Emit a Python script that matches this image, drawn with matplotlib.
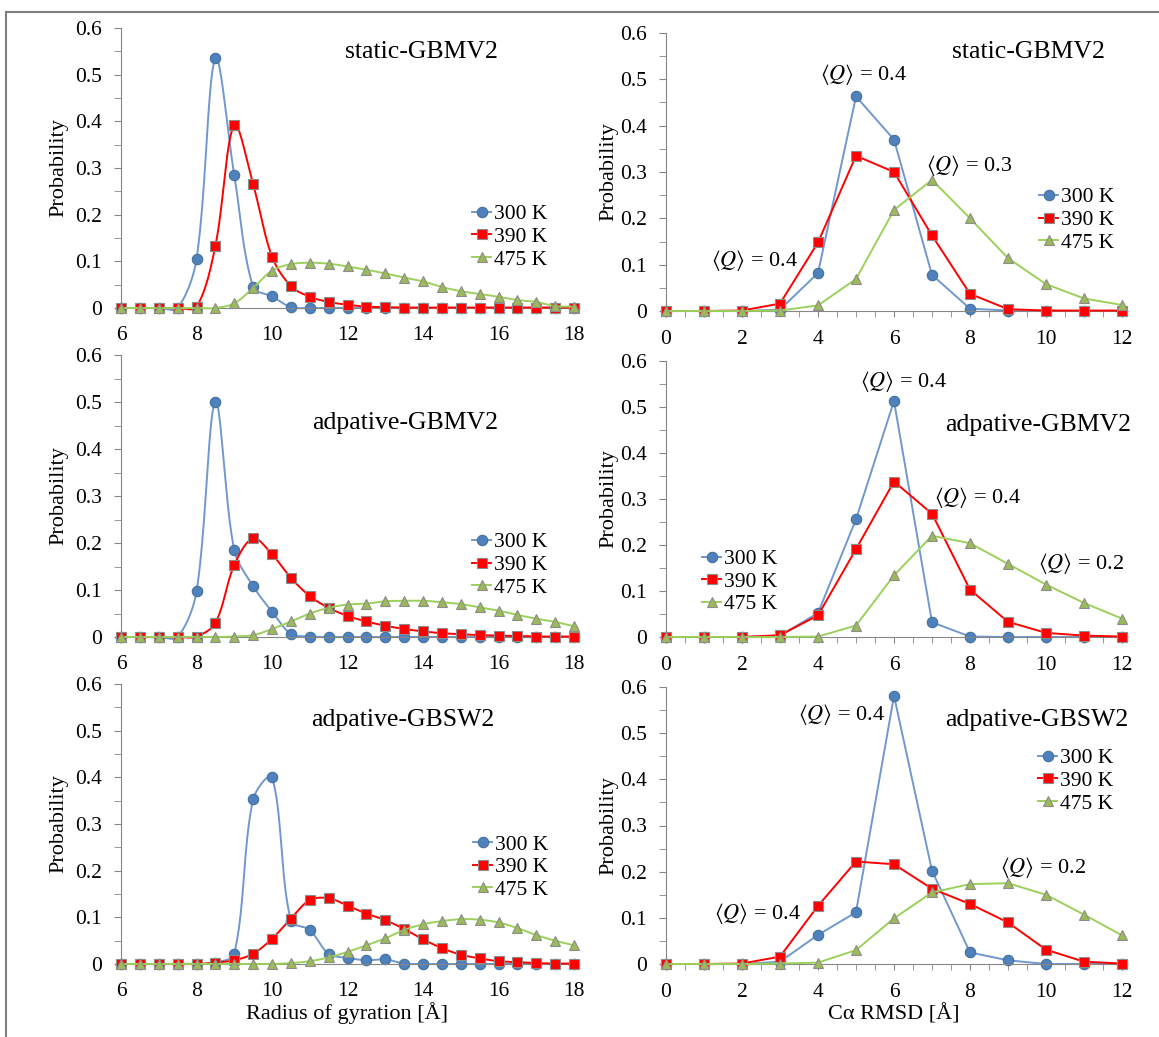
import numpy as np
import matplotlib
matplotlib.use("Agg")
import matplotlib.pyplot as plt
from matplotlib.lines import Line2D
from matplotlib.ticker import MultipleLocator, FuncFormatter

plt.rcParams['font.family'] = ['Liberation Serif', 'DejaVu Serif']
plt.rcParams['mathtext.fontset'] = 'stix'

# x values
rg_x = np.arange(6, 18.01, 0.5)
rmsd_x = np.arange(0, 13)

temps = ["300 K", "390 K", "475 K"]

# radius of gyration, static-GBMV2
rg_static_300 = [0, 0, 0, 0, 0.105, 0.535, 0.285, 0.045, 0.025, 0.002, 0, 0, 0,
                 0, 0, 0, 0, 0, 0, 0, 0, 0, 0, 0, 0]
rg_static_390 = [0, 0, 0, 0, 0.002, 0.133, 0.392, 0.265, 0.11, 0.047, 0.024, 0.013, 0.007,
                 0.003, 0.002, 0.001, 0.001, 0.001, 0.001, 0.001, 0.001, 0.001, 0.001, 0.001, 0.001]
rg_static_475 = [0, 0, 0, 0, 0, 0, 0.01, 0.043, 0.08, 0.094, 0.097, 0.095, 0.089,
                 0.082, 0.074, 0.065, 0.057, 0.045, 0.036, 0.03, 0.024, 0.017, 0.013, 0.004, 0.003]

# radius of gyration, adaptive-GBMV2
rg_adgbmv_300 = [0, 0, 0, 0, 0.097, 0.5, 0.185, 0.108, 0.054, 0.007, 0.001, 0, 0,
                 0, 0, 0, 0, 0, 0, 0, 0, 0, 0, 0, 0]
rg_adgbmv_390 = [0, 0, 0, 0, 0.001, 0.03, 0.153, 0.21, 0.176, 0.126, 0.087, 0.062, 0.045,
                 0.033, 0.024, 0.017, 0.012, 0.008, 0.006, 0.004, 0.003, 0.002, 0.001, 0.001, 0.001]
rg_adgbmv_475 = [0, 0, 0, 0, 0, 0, 0.001, 0.004, 0.017, 0.033, 0.05, 0.062, 0.069,
                 0.071, 0.076, 0.077, 0.077, 0.074, 0.07, 0.063, 0.056, 0.047, 0.039, 0.032, 0.023]

# radius of gyration, adaptive-GBSW2
rg_adgbsw_300 = [0, 0, 0, 0, 0, 0.003, 0.022, 0.353, 0.4, 0.093, 0.073, 0.022, 0.013,
                 0.008, 0.01, 0.001, 0, 0, 0, 0, 0, 0, 0, 0, 0]
rg_adgbsw_390 = [0, 0, 0, 0, 0, 0.003, 0.008, 0.022, 0.054, 0.097, 0.137, 0.141, 0.125,
                 0.108, 0.094, 0.075, 0.053, 0.034, 0.02, 0.012, 0.006, 0.004, 0.002, 0.001, 0.001]
rg_adgbsw_475 = [0, 0, 0, 0, 0, 0, 0, 0, 0, 0.002, 0.006, 0.014, 0.026,
                 0.04, 0.055, 0.073, 0.085, 0.092, 0.096, 0.095, 0.089, 0.077, 0.062, 0.05, 0.04]

# C-alpha RMSD
rmsd_static_300 = [0, 0, 0, 0.003, 0.082, 0.463, 0.37, 0.078, 0.005, 0.001, 0, 0, 0]
rmsd_static_390 = [0, 0, 0.001, 0.016, 0.148, 0.335, 0.3, 0.163, 0.037, 0.004, 0.001, 0.001, 0.001]
rmsd_static_475 = [0, 0, 0, 0.001, 0.012, 0.069, 0.218, 0.283, 0.2, 0.114, 0.058, 0.027, 0.013]

rmsd_adgbmv_300 = [0, 0, 0, 0.003, 0.052, 0.256, 0.513, 0.032, 0.001, 0, 0, 0, 0]
rmsd_adgbmv_390 = [0, 0, 0, 0.004, 0.047, 0.191, 0.338, 0.268, 0.103, 0.033, 0.009, 0.003, 0.001]
rmsd_adgbmv_475 = [0, 0, 0, 0, 0.001, 0.025, 0.134, 0.22, 0.204, 0.159, 0.114, 0.074, 0.04]

rmsd_adgbsw_300 = [0, 0, 0, 0.005, 0.063, 0.112, 0.581, 0.202, 0.025, 0.008, 0, 0, 0]
rmsd_adgbsw_390 = [0, 0, 0.001, 0.016, 0.126, 0.222, 0.216, 0.163, 0.13, 0.09, 0.031, 0.005, 0.001]
rmsd_adgbsw_475 = [0, 0, 0, 0.001, 0.003, 0.03, 0.099, 0.155, 0.173, 0.175, 0.15, 0.107, 0.062]

titles = ["static-GBMV2", "adpative-GBMV2", "adpative-GBSW2"]

# <Q> labels for the rmsd panels: (text, x frac, y frac)
q_labels = [
    [("0.4", 0.432, 0.849), ("0.3", 0.664, 0.525), ("0.4", 0.193, 0.183)],
    [("0.4", 0.52, 0.924), ("0.4", 0.682, 0.504), ("0.2", 0.91, 0.268)],
    [("0.4", 0.384, 0.899), ("0.4", 0.20, 0.184), ("0.2", 0.827, 0.35)],
]

line_cols = ['#7098CF', '#FF0000', '#9BD15A']
face_cols = ['#4F81BD', '#FF0000', '#9BBB59']
edge_cols = ['#41719C', '#8C8C8C', '#8C8C8C']
markers = ['o', 's', '^']


def smooth(x, y, sx, sy, n=24):
    # excel-like bezier smoothing, tangents scaled by chord length in screen units
    pts = np.column_stack([np.asarray(x) * sx, np.asarray(y) * sy])
    p = np.vstack([pts[0], pts, pts[-1]])
    t = np.linspace(0, 1, n)[:, None]
    segs = []
    for i in range(len(pts) - 1):
        p0, p1, p2, p3 = p[i], p[i + 1], p[i + 2], p[i + 3]
        d01 = np.hypot(*(p1 - p0))
        d12 = np.hypot(*(p2 - p1))
        d23 = np.hypot(*(p3 - p2))
        m1 = (p2 - p0) / max(d01 + d12, 1e-9)
        m2 = (p3 - p1) / max(d12 + d23, 1e-9)
        c1 = p1 + m1 * d12 / 3
        c2 = p2 - m2 * d12 / 3
        segs.append((1 - t)**3 * p1 + 3 * (1 - t)**2 * t * c1 + 3 * (1 - t) * t**2 * c2 + t**3 * p2)
    s = np.vstack(segs)
    return s[:, 0] / sx, s[:, 1] / sy


W, H = 1159, 1037
fig = plt.figure(figsize=(W / 100, H / 100), dpi=100)

# axes boxes in pixels: x0, x1, ytop, ybottom
left_boxes = [(121, 574, 28, 308), (121, 574, 355, 637), (121, 574, 684, 964)]
right_boxes = [(666, 1122, 33, 311), (666, 1122, 361, 637), (666, 1122, 687, 964)]

rg_data = [(rg_static_300, rg_static_390, rg_static_475),
           (rg_adgbmv_300, rg_adgbmv_390, rg_adgbmv_475),
           (rg_adgbsw_300, rg_adgbsw_390, rg_adgbsw_475)]
rmsd_data = [(rmsd_static_300, rmsd_static_390, rmsd_static_475),
             (rmsd_adgbmv_300, rmsd_adgbmv_390, rmsd_adgbmv_475),
             (rmsd_adgbsw_300, rmsd_adgbsw_390, rmsd_adgbsw_475)]

left_title_pos = [(0.664, 0.914), (0.627, 0.759), (0.623, 0.871)]
right_title_pos = [(0.794, 0.932), (0.816, 0.768), (0.814, 0.881)]
left_leg_pos = [(0.775, 0.254), (0.775, 0.255), (0.777, 0.346)]
right_leg_pos = [(0.818, 0.327), (0.079, 0.20), (0.816, 0.661)]


def make_ax(box):
    x0, x1, yt, yb = box
    ax = fig.add_axes([x0 / W, 1 - yb / H, (x1 - x0) / W, (yb - yt) / H])
    ax.set_ylim(0, 0.6)
    for s in ['top', 'right']:
        ax.spines[s].set_visible(False)
    for s in ['left', 'bottom']:
        ax.spines[s].set_color('#868686')
    ax.yaxis.set_major_locator(MultipleLocator(0.1))
    ax.yaxis.set_minor_locator(MultipleLocator(0.05))
    ax.yaxis.set_major_formatter(FuncFormatter(lambda v, _: '0' if abs(v) < 1e-9 else f'{v:.1f}'))
    ax.tick_params(axis='y', which='both', direction='out', length=5, color='#868686',
                   labelsize=15.5, pad=9)
    ax.set_ylabel('Probability', fontsize=16)
    ax.patch.set_alpha(0)
    return ax


for row in range(3):
    # left: radius of gyration (smoothed lines)
    box = left_boxes[row]
    ax = make_ax(box)
    ax.set_xlim(6, 18)
    ax.set_xticks(np.arange(6, 19, 2))
    ax.tick_params(axis='x', length=0, labelsize=15.5, pad=13)
    px_x = (box[1] - box[0]) / 12.0
    px_y = (box[3] - box[2]) / 0.6
    for k, ys in enumerate(rg_data[row]):
        sx, sy = smooth(rg_x, ys, px_x, px_y)
        ax.plot(sx, sy, color=line_cols[k], lw=1.4, clip_on=False, zorder=2 + k)
        ax.plot(rg_x, ys, ls='none', marker=markers[k], ms=7.5, mfc=face_cols[k],
                mec=edge_cols[k], mew=0.8, clip_on=False, zorder=2 + k)
    handles = [Line2D([], [], color=line_cols[k], lw=1.4, marker=markers[k], ms=7.5,
                      mfc=face_cols[k], mec=edge_cols[k], mew=0.8) for k in range(3)]
    ax.legend(handles, temps, loc='center left', bbox_to_anchor=left_leg_pos[row],
              frameon=False, fontsize=15.5, handlelength=0.9, handletextpad=0.1,
              labelspacing=0.12, borderpad=0, borderaxespad=0)
    ax.text(*left_title_pos[row], titles[row], transform=ax.transAxes, fontsize=18.5,
            ha='center', va='center')
    ax.yaxis.set_label_coords(-0.117, 0.5)
    if row == 2:
        ax.set_xlabel('Radius of gyration [Å]', fontsize=16, labelpad=1)

    # right: c-alpha rmsd (straight lines)
    ax = make_ax(right_boxes[row])
    ax.set_xlim(0, 12)
    ax.set_xticks(np.arange(0, 13, 2))
    ax.xaxis.set_minor_locator(MultipleLocator(0.5))
    ax.tick_params(axis='x', which='both', direction='out', length=4, color='#868686',
                   labelsize=15.5, pad=10)
    for k, ys in enumerate(rmsd_data[row]):
        ax.plot(rmsd_x, ys, color=line_cols[k], lw=1.4, marker=markers[k], ms=7.5,
                mfc=face_cols[k], mec=edge_cols[k], mew=0.8, clip_on=False, zorder=2 + k)
    handles = [Line2D([], [], color=line_cols[k], lw=1.4, marker=markers[k], ms=7.5,
                      mfc=face_cols[k], mec=edge_cols[k], mew=0.8) for k in range(3)]
    ax.legend(handles, temps, loc='center left', bbox_to_anchor=right_leg_pos[row],
              frameon=False, fontsize=15.5, handlelength=0.9, handletextpad=0.1,
              labelspacing=0.12, borderpad=0, borderaxespad=0)
    ax.text(*right_title_pos[row], titles[row], transform=ax.transAxes, fontsize=18.5,
            ha='center', va='center')
    for val, qx, qy in q_labels[row]:
        ax.text(qx, qy, r'$\langle Q\rangle$ = ' + val, transform=ax.transAxes,
                fontsize=16, ha='center', va='center')
    ax.yaxis.set_label_coords(-0.105, 0.5)
    if row == 2:
        ax.set_xlabel('Cα RMSD [Å]', fontsize=16, labelpad=1)

# outer frame (top and left edges visible)
fig.add_artist(Line2D([6 / W, 1], [1 - 12 / H, 1 - 12 / H], transform=fig.transFigure,
                      color='#7F7F7F', lw=1.5))
fig.add_artist(Line2D([6 / W, 6 / W], [0, 1 - 12 / H], transform=fig.transFigure,
                      color='#7F7F7F', lw=1.5))

fig.savefig('out.png', dpi=100, facecolor='white')
